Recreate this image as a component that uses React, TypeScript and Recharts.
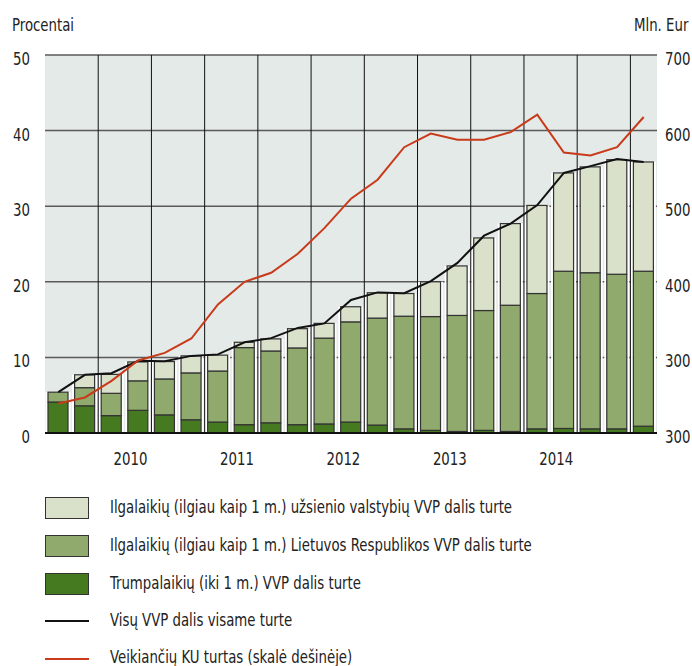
import React from 'react';
import {
  ComposedChart,
  Bar,
  Line,
  XAxis,
  YAxis,
  CartesianGrid,
  ReferenceLine,
} from 'recharts';

// quarters: 2009 Q4 .. 2015 Q2
const quarters = [
  '2009 IV',
  '2010 I', '2010 II', '2010 III', '2010 IV',
  '2011 I', '2011 II', '2011 III', '2011 IV',
  '2012 I', '2012 II', '2012 III', '2012 IV',
  '2013 I', '2013 II', '2013 III', '2013 IV',
  '2014 I', '2014 II', '2014 III', '2014 IV',
  '2015 I', '2015 II',
];
const yearLabels = ['2010', '2011', '2012', '2013', '2014'];

// percent of assets
const shortTerm = [4.1, 3.6, 2.3, 3.0, 2.4, 1.75, 1.45, 1.1, 1.35, 1.1, 1.2, 1.45, 1.05, 0.55, 0.35, 0.2, 0.35, 0.2, 0.55, 0.6, 0.55, 0.55, 0.9];
const longTermLt = [1.3, 2.4, 2.95, 3.9, 4.75, 6.2, 6.75, 10.2, 9.5, 10.15, 11.35, 13.25, 14.15, 14.9, 15.05, 15.35, 15.85, 16.7, 17.9, 20.8, 20.65, 20.45, 20.5];
const longTermForeign = [0, 1.7, 2.5, 2.5, 2.3, 2.25, 2.1, 0.7, 1.6, 2.55, 1.95, 2.0, 3.35, 3.0, 4.6, 6.55, 9.6, 10.8, 11.65, 13.0, 14.0, 15.15, 14.45];
const totalShare = [5.4, 7.7, 7.9, 9.55, 9.5, 10.2, 10.4, 12.0, 12.55, 13.9, 14.5, 17.6, 18.6, 18.5, 20.1, 22.5, 26.1, 27.7, 30.15, 34.4, 35.3, 36.25, 35.85];
// mln eur, right scale
const fundAssets = [239, 247, 269, 296, 306, 325, 370, 400, 412, 437, 471, 510, 535, 578, 596, 588, 588, 598, 621, 571, 567, 578, 618];

const leftTicks = [0, 10, 20, 30, 40, 50];
const rightTicks = [200, 300, 400, 500, 600, 700];
const rightTickText: Record<number, string> = { 200: '300', 300: '300', 400: '400', 500: '500', 600: '600', 700: '700' };

const data = quarters.map((q, i) => ({
  q,
  shortTerm: shortTerm[i],
  longTermLt: longTermLt[i],
  longTermForeign: longTermForeign[i],
  totalShare: totalShare[i],
  fundAssets: fundAssets[i],
}));

const FONT = '"DejaVu Sans Condensed", "DejaVu Sans", sans-serif';
const FS = 17;
const SQUEEZE = 0.87;
const C_LIGHT = '#d9e1cb';
const C_MID = '#8faa6c';
const C_DARK = '#467a20';
const C_RED = '#c93a1b';
const C_TEXT = '#222';

const BarShape = (props: any) => {
  const { x, y, width, height, fill } = props;
  if (!height || height <= 0) return <g />;
  return (
    <g>
      <line x1={x - 1.5} x2={x - 1.5} y1={y} y2={y + height} stroke="#fff" strokeWidth={2} />
      <line x1={x + width + 1.5} x2={x + width + 1.5} y1={y} y2={y + height} stroke="#fff" strokeWidth={2} />
      <rect x={x} y={y} width={width} height={height} fill={fill} stroke="#333" strokeWidth={1.2} />
    </g>
  );
};

// condensed svg text
const SqText = ({ x, y, anchor, children }: any) => (
  <text
    transform={`translate(${x},${y}) scale(${SQUEEZE},1)`}
    textAnchor={anchor}
    fontSize={FS}
    fontFamily={FONT}
    fill={C_TEXT}
  >
    {children}
  </text>
);

const YearTick = (props: any) => {
  const { x, y, payload } = props;
  const [year, qt] = String(payload.value).split(' ');
  if (qt !== 'II' || !yearLabels.includes(year)) return <g />;
  return <SqText x={x + 19} y={y + 32} anchor="middle">{year}</SqText>;
};

const LeftTick = (props: any) => {
  const { x, y, payload } = props;
  return <SqText x={x} y={y + 10} anchor="end">{String(payload.value)}</SqText>;
};

const RightTick = (props: any) => {
  const { x, y, payload } = props;
  return <SqText x={x} y={y + 10} anchor="start">{rightTickText[payload.value] ?? String(payload.value)}</SqText>;
};

const legendRows = [
  { kind: 'box', color: C_LIGHT, label: 'Ilgalaikių (ilgiau kaip 1 m.) užsienio valstybių VVP dalis turte' },
  { kind: 'box', color: C_MID, label: 'Ilgalaikių (ilgiau kaip 1 m.) Lietuvos Respublikos VVP dalis turte' },
  { kind: 'box', color: C_DARK, label: 'Trumpalaikių (iki 1 m.) VVP dalis turte' },
  { kind: 'line', color: '#111', label: 'Visų VVP dalis visame turte' },
  { kind: 'line', color: C_RED, label: 'Veikiančių KU turtas (skalė dešinėje)' },
];
const legendMarkY = [508, 546, 583.5, 620.5, 659];
const legendBaseY = [513.5, 551.5, 589, 626, 663.5];

const squeezed: React.CSSProperties = {
  position: 'absolute',
  fontSize: FS,
  lineHeight: '17px',
  color: C_TEXT,
  whiteSpace: 'nowrap',
  transform: `scaleX(${SQUEEZE})`,
  transformOrigin: 'left top',
};

export default function App() {
  return (
    <div style={{ position: 'absolute', left: 0, top: 0, width: 692, height: 666, overflow: 'hidden', background: '#fff', fontFamily: FONT }}>
      <div style={{ ...squeezed, left: 12, top: 31 - 14.4 }}>Procentai</div>
      <div style={{ ...squeezed, left: 634, top: 31 - 14.4 }}>Mln. Eur</div>

      <ComposedChart
        width={692}
        height={470}
        data={data}
        margin={{ top: 55, right: 0, bottom: 7, left: 0 }}
        barSize={20}
        style={{ position: 'absolute', left: 0, top: 0 }}
      >
        <CartesianGrid
          yAxisId="left"
          vertical={false}
          stroke="#5a5a5a"
          strokeWidth={1.5}
          fill="#e4eae7"
          fillOpacity={1}
        />
        <XAxis
          dataKey="q"
          height={30}
          interval={0}
          tickSize={0}
          tickMargin={0}
          tick={<YearTick />}
          axisLine={{ stroke: '#111', strokeWidth: 2 }}
        />
        <YAxis
          yAxisId="left"
          width={45}
          domain={[0, 50]}
          ticks={leftTicks}
          tickSize={0}
          tickMargin={15}
          axisLine={false}
          tick={<LeftTick />}
        />
        <YAxis
          yAxisId="right"
          orientation="right"
          width={35}
          domain={[200, 700]}
          ticks={rightTicks}
          tickSize={0}
          tickMargin={8}
          axisLine={false}
          tick={<RightTick />}
        />
        {quarters.map((q, i) =>
          i > 0 && i % 2 === 0 ? (
            <ReferenceLine key={q} yAxisId="left" x={q} position="start" stroke="#111" strokeWidth={1} />
          ) : null
        )}
        <Bar yAxisId="left" dataKey="shortTerm" stackId="s" fill={C_DARK} shape={<BarShape />} isAnimationActive={false} />
        <Bar yAxisId="left" dataKey="longTermLt" stackId="s" fill={C_MID} shape={<BarShape />} isAnimationActive={false} />
        <Bar yAxisId="left" dataKey="longTermForeign" stackId="s" fill={C_LIGHT} shape={<BarShape />} isAnimationActive={false} />
        <Line yAxisId="left" type="linear" dataKey="totalShare" stroke="#111" strokeWidth={2} dot={false} isAnimationActive={false} />
        <Line yAxisId="right" type="linear" dataKey="fundAssets" stroke={C_RED} strokeWidth={2} dot={false} isAnimationActive={false} />
      </ComposedChart>

      {legendRows.map((r, i) => {
        const cy = legendMarkY[i];
        return (
          <React.Fragment key={r.label}>
            {r.kind === 'box' ? (
              <div
                style={{
                  position: 'absolute',
                  left: 45,
                  top: cy - 11,
                  width: 42,
                  height: 20,
                  background: r.color,
                  border: '1px solid #333',
                }}
              />
            ) : (
              <div style={{ position: 'absolute', left: 45, top: cy - 1, width: 44, height: 2, background: r.color }} />
            )}
            <div style={{ ...squeezed, left: 110, top: legendBaseY[i] - 14.4 }}>{r.label}</div>
          </React.Fragment>
        );
      })}
    </div>
  );
}
